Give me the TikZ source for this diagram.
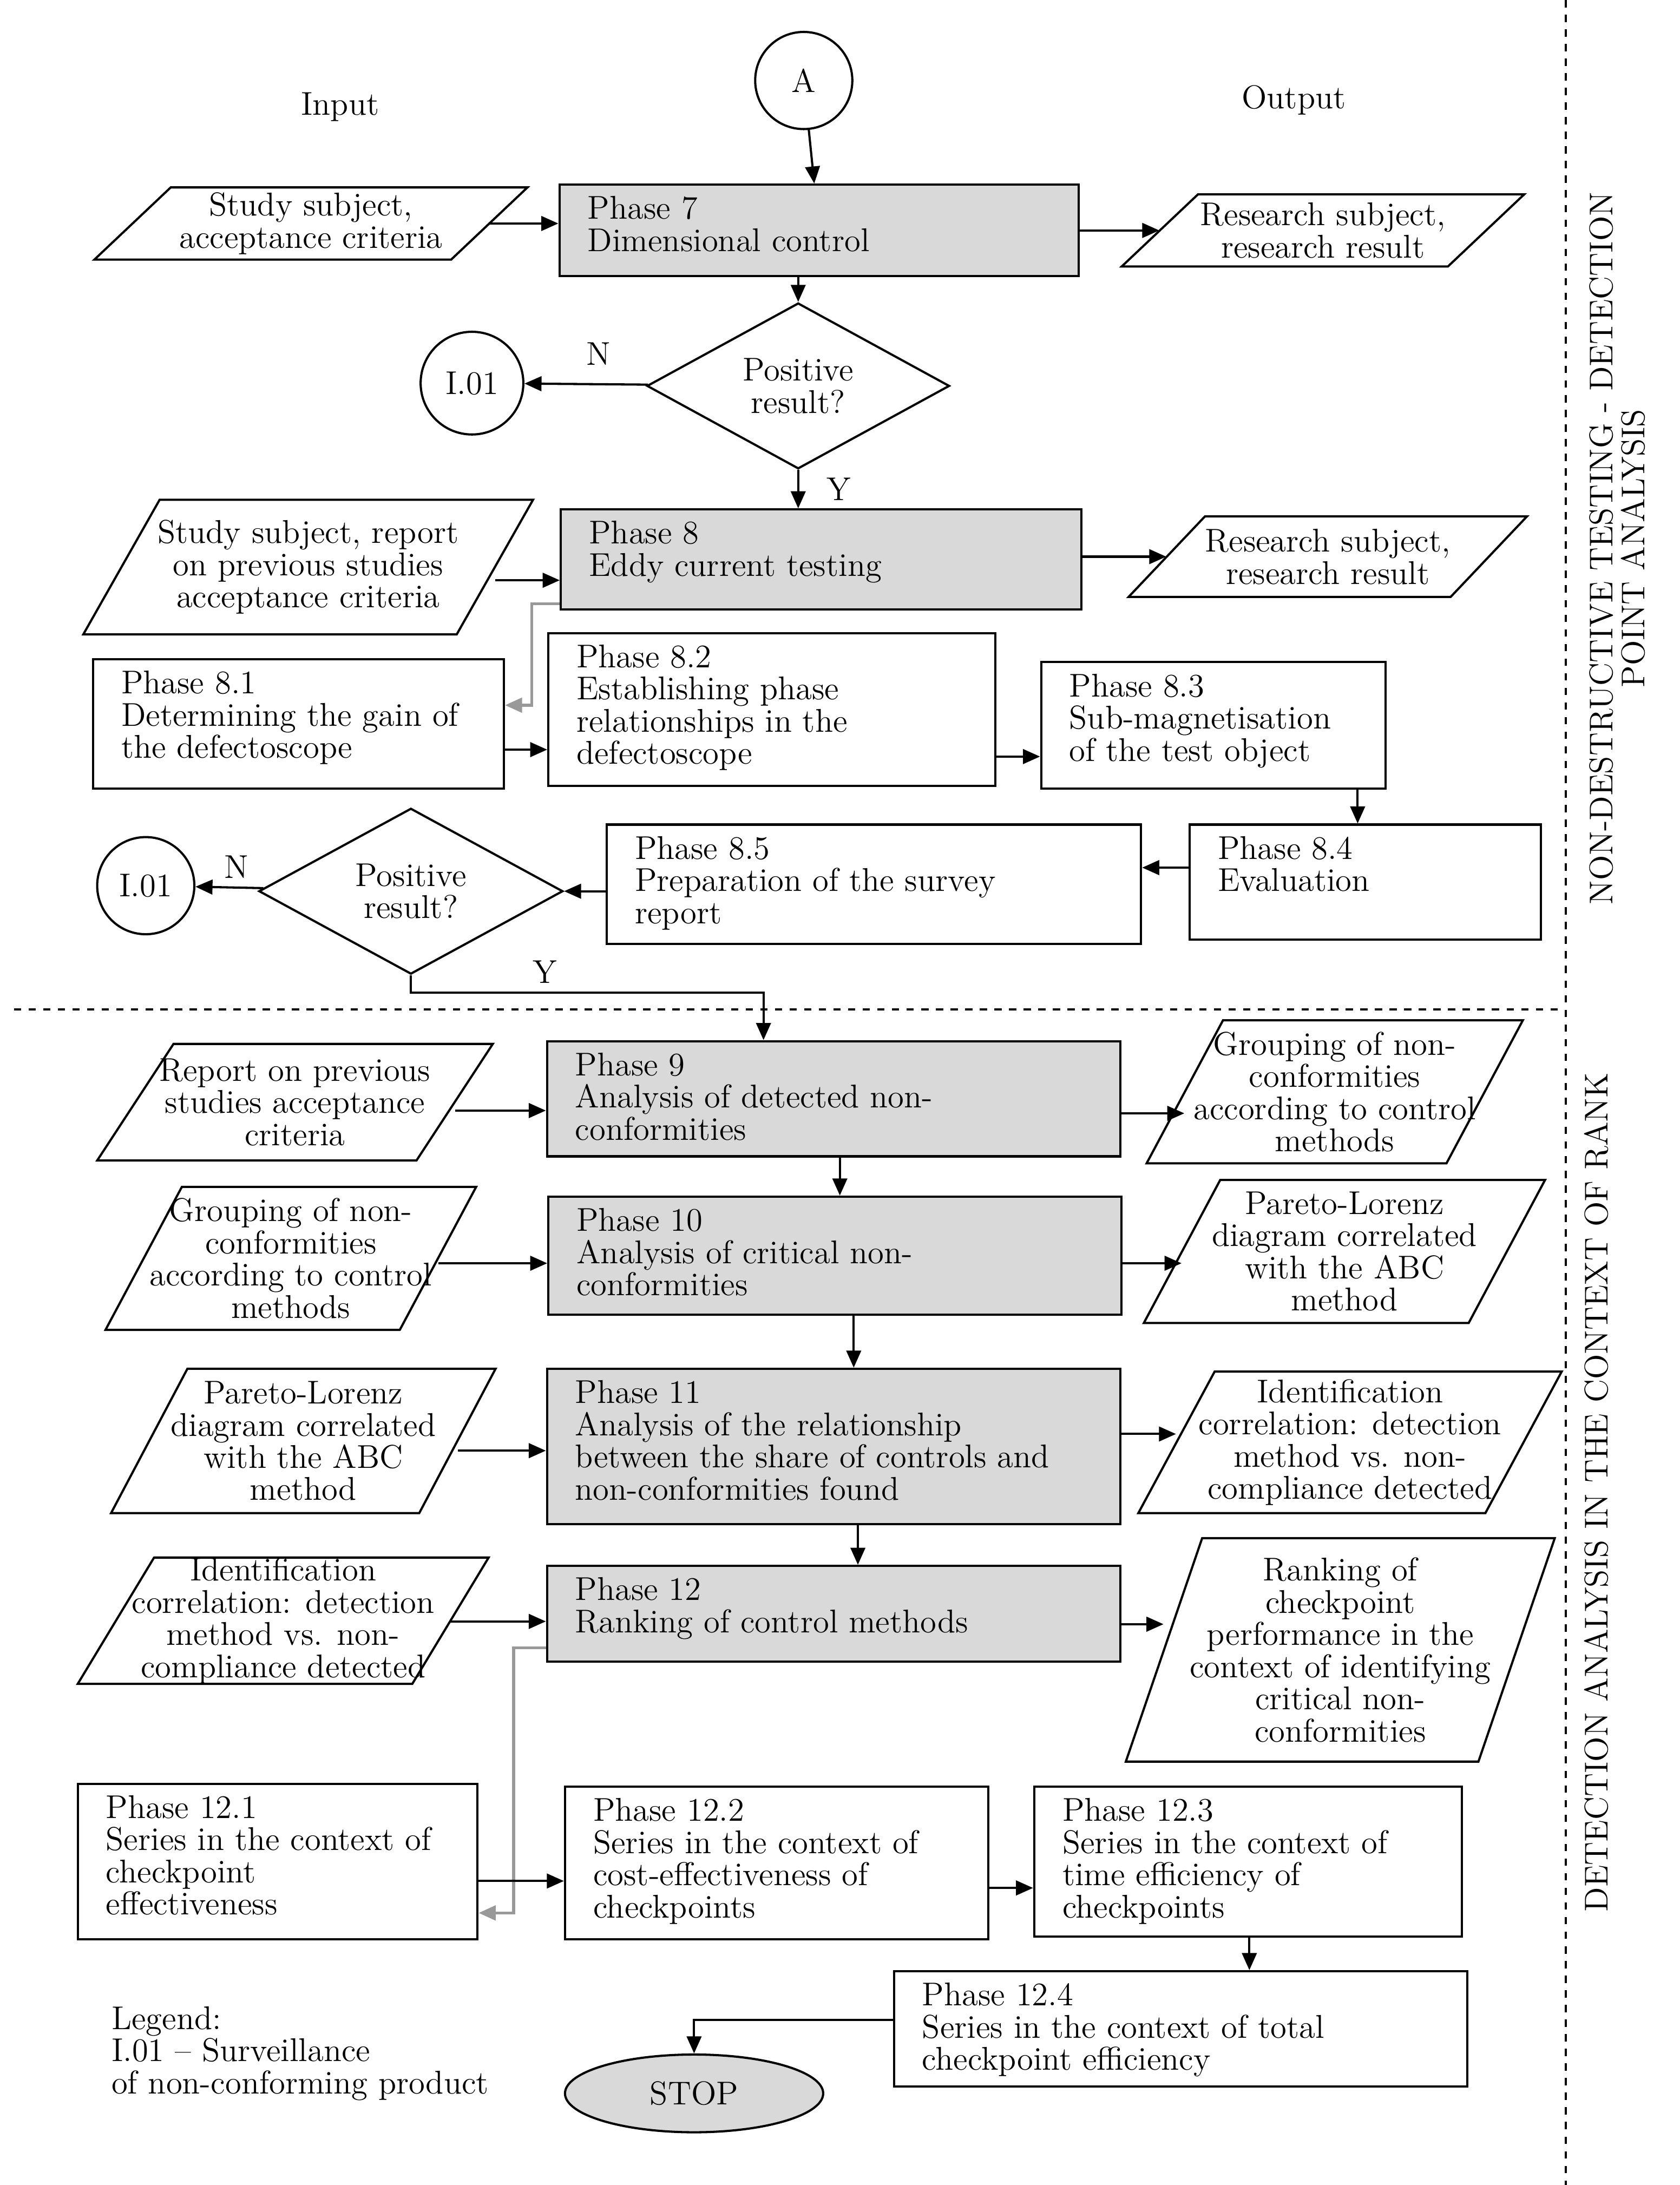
\documentclass[tikz,border=0pt]{standalone}
\usetikzlibrary{shapes.geometric,arrows.meta}
\begin{document}
\begin{tikzpicture}[x=0.02cm,y=-0.02cm,
  every node/.style={font=\fontsize{13.5}{13.2}\selectfont},
  line/.style={black,line width=0.9pt},
  arr/.style={line,-{Triangle[length=7pt,width=6pt]}},
  garr/.style={gray!80,line width=1.2pt,-{Triangle[length=7pt,width=6pt]}},
  txt/.style={anchor=north west,align=left,inner sep=0pt},
  circ/.style={circle,draw,line width=0.9pt,minimum size=1.4cm,inner sep=0pt},
  dia/.style={diamond,draw,line width=0.9pt,inner sep=0pt,align=center},
  lab/.style={inner sep=0pt}]
\useasboundingbox (0,0) rectangle (1210,1574);
\newcommand\para[6]{%
 \pgfmathsetmacro\s{55}%
 \pgfmathsetmacro\cx{(#2+#3)/2}\pgfmathsetmacro\cy{(#4+#5)/2}%
 \pgfmathsetmacro\w{(#3-#2-\s)*0.02}\pgfmathsetmacro\h{(#5-#4)*0.02}%
 \draw[line] (#2,#5)--(#2+\s,#4)--(#3,#4)--(#3-\s,#5)--cycle;
 \node[minimum width=\w cm,minimum height=\h cm,inner sep=0pt,align=center] (#1) at (\cx,\cy) {#6};}
\newcommand\phase[7]{%
 \pgfmathsetmacro\cx{(#2+#3)/2}\pgfmathsetmacro\cy{(#4+#5)/2}%
 \pgfmathsetmacro\w{(#3-#2)*0.02}\pgfmathsetmacro\h{(#5-#4)*0.02}%
 \node[draw,line width=0.9pt,fill=#6,minimum width=\w cm,minimum height=\h cm,inner sep=0pt] (#1) at (\cx,\cy) {};
 \node[txt] at (#2+20,#4+8) {#7};}
% headers
\node[circ] (A) at (579,58) {A};
\node[lab] (in) at (245,77) {Input};
\node[lab] (out) at (932,72) {Output};
% phase 7
\phase{p7}{403}{777}{133}{199}{gray!30}{Phase 7\\Dimensional control}
\para{l7}{68}{380}{135}{187}{Study subject,\\acceptance criteria}
\para{r7}{808}{1098}{140}{192}{Research subject,\\research result}
\node[dia,minimum width=218*0.02cm,minimum height=91*0.02cm] (d1) at (575,278) {Positive\\result?};
\node[circ,minimum size=1.48cm] (i1) at (340,276) {I.01};
\draw[arr] (A) -- (p7);
\draw[arr] (l7) -- (p7.west |- l7);
\draw[arr] (p7.east |- r7) -- (r7);
\draw[arr] (p7.south -| 575,0) -- (d1);
\draw[arr] (d1) -- node[above,pos=0.4,yshift=4pt]{N} (i1);
% phase 8
\phase{p8}{404}{779}{367}{439}{gray!30}{Phase 8\\Eddy current testing}
\draw[arr] (d1.south) -- node[right,xshift=8pt,pos=0.5]{Y} (p8.north -| d1.south);
\para{l8}{60}{384}{360}{457}{Study subject, report\\on previous studies\\acceptance criteria}
\para{r8}{813}{1100}{372}{430}{Research subject,\\research result}
\draw[arr] (l8.east |- 0,418) -- (p8.west |- 0,418);
\draw[arr] (p8.east |- r8) -- (r8);
\phase{p81}{67}{363}{475}{568}{white}{Phase 8.1\\Determining the gain of\\the defectoscope}
\phase{p82}{395}{717}{456}{566}{white}{Phase 8.2\\Establishing phase\\relationships in the\\defectoscope}
\phase{p83}{750}{998}{477}{568}{white}{Phase 8.3\\Sub-magnetisation\\of the test object}
\phase{p84}{857}{1110}{594}{677}{white}{Phase 8.4\\Evaluation}
\phase{p85}{437}{822}{594}{680}{white}{Phase 8.5\\Preparation of the survey\\report}
\draw[garr] (p8.west |- 0,435) -- (383,435) -- (383,508) -- (p81.east |- 0,508);
\draw[arr] (p81.east |- 0,540) -- (p82.west |- 0,540);
\draw[arr] (p82.east |- 0,545) -- (p83.west |- 0,545);
\draw[arr] (p83.south -| 978,0) -- (p84.north -| 978,0);
\draw[arr] (p84.west |- 0,625) -- (p85.east |- 0,625);
\node[dia,minimum width=219*0.02cm,minimum height=92*0.02cm] (d2) at (296,642) {Positive\\result?};
\node[circ] (i2) at (105,638) {I.01};
\draw[arr] (p85.west |- d2) -- (d2);
\draw[arr] (d2) -- node[above,pos=0.4]{N} (i2);
% separators
\draw[line,dashed] (10,727) -- (1125,727);
\draw[line,dashed] (1128,0) -- (1128,1574);
\node[rotate=90,align=center] (s1) at (1165,395) {NON-DESTRUCTIVE TESTING - DETECTION\\POINT ANALYSIS};
\node[rotate=90] (s2) at (1150,1075) {DETECTION ANALYSIS IN THE CONTEXT OF RANK};
% phase 9
\phase{p9}{394}{807}{750}{833}{gray!30}{Phase 9\\Analysis of detected non-\\conformities}
\draw[arr] (d2.south) -- (296,715) -- node[above,pos=0.38]{Y} (550,715) -- (p9.north -| 550,0);
\para{l9}{70}{355}{752}{836}{Report on previous\\studies acceptance\\criteria}
\para{r9}{826}{1097}{735}{838}{Grouping of non-\\conformities\\according to control\\methods}
\draw[arr] (l9.east |- 0,800) -- (p9.west |- 0,800);
\draw[arr] (p9.east |- 0,802) -- (r9.west |- 0,802);
\phase{p10}{395}{808}{862}{947}{gray!30}{Phase 10\\Analysis of critical non-\\conformities}
\para{l10}{76}{343}{855}{958}{Grouping of non-\\conformities\\according to control\\methods}
\para{r10}{824}{1113}{850}{953}{Pareto-Lorenz\\diagram correlated\\with the ABC\\method}
\draw[arr] (p9.south -| 605,0) -- (p10.north -| 605,0);
\draw[arr] (l10.east |- 0,910) -- (p10.west |- 0,910);
\draw[arr] (p10.east |- 0,910) -- (r10.west |- 0,910);
\phase{p11}{394}{807}{986}{1098}{gray!30}{Phase 11\\Analysis of the relationship\\between the share of controls and\\non-conformities found}
\para{l11}{80}{357}{986}{1090}{Pareto-Lorenz\\diagram correlated\\with the ABC\\method}
\para{r11}{820}{1125}{988}{1090}{Identification\\correlation: detection\\method vs. non-\\compliance detected}
\draw[arr] (p10.south -| 615,0) -- (p11.north -| 615,0);
\draw[arr] (l11.east |- 0,1045) -- (p11.west |- 0,1045);
\draw[arr] (p11.east |- 0,1033) -- (r11.west |- 0,1033);
\phase{p12}{394}{807}{1128}{1197}{gray!30}{Phase 12\\Ranking of control methods}
\para{l12}{56}{352}{1122}{1213}{Identification\\correlation: detection\\method vs. non-\\compliance detected}
\para{r12}{811}{1120}{1108}{1269}{Ranking of\\checkpoint\\performance in the\\context of identifying\\critical non-\\conformities}
\draw[arr] (p11.south -| 618,0) -- (p12.north -| 618,0);
\draw[arr] (l12.east |- 0,1168) -- (p12.west |- 0,1168);
\draw[arr] (p12.east |- 0,1170) -- (r12.west |- 0,1170);
\phase{p121}{56}{344}{1285}{1397}{white}{Phase 12.1\\Series in the context of\\checkpoint\\effectiveness}
\phase{p122}{407}{712}{1287}{1397}{white}{Phase 12.2\\Series in the context of\\cost-effectiveness of\\checkpoints}
\phase{p123}{745}{1053}{1287}{1395}{white}{Phase 12.3\\Series in the context of\\time efficiency of\\checkpoints}
\phase{p124}{644}{1057}{1420}{1503}{white}{Phase 12.4\\Series in the context of total\\checkpoint efficiency}
\draw[garr] (p12.west |- 0,1187) -- (370,1187) -- (370,1378) -- (p121.east |- 0,1378);
\draw[arr] (p121.east |- 0,1355) -- (p122.west |- 0,1355);
\draw[arr] (p122.east |- 0,1360) -- (p123.west |- 0,1360);
\draw[arr] (p123.south -| 900,0) -- (p124.north -| 900,0);
\node[ellipse,draw,line width=0.9pt,fill=gray!30,minimum width=186*0.02cm,minimum height=56*0.02cm] (stop) at (500,1508) {STOP};
\draw[arr] (p124.west |- 0,1455) -- (500,1455) -- (stop.north);
\node[txt] (leg) at (80,1445) {Legend:\\I.01 -- Surveillance\\of non-conforming product};
\end{tikzpicture}
\end{document}
